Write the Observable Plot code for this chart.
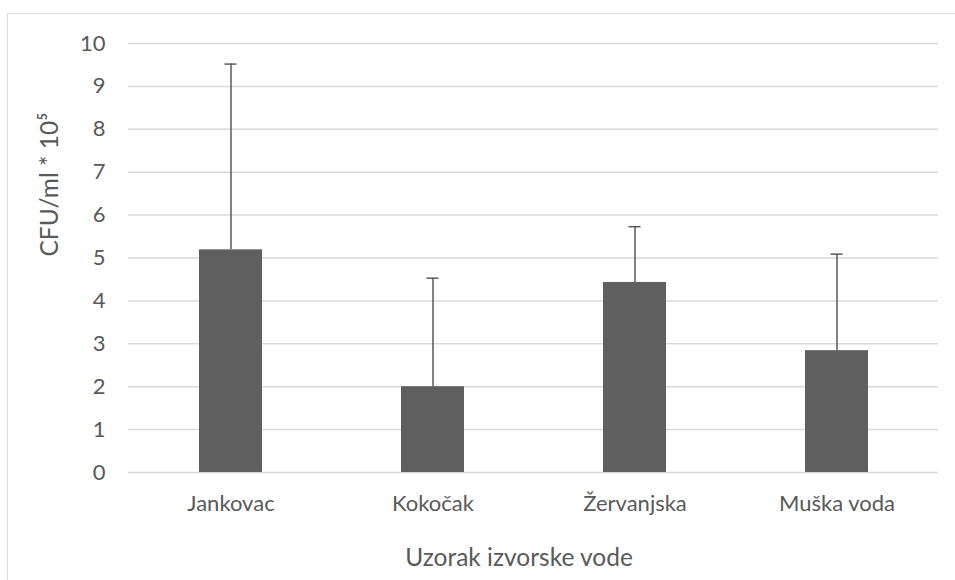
<!DOCTYPE html>
<html>
<head>
<meta charset="utf-8">
<script src="https://cdn.jsdelivr.net/npm/d3@7"></script>
<script src="https://cdn.jsdelivr.net/npm/@observablehq/plot@0.6"></script>
<style>
  html, body { margin: 0; padding: 0; background: #fff; }
  #wrap { position: relative; width: 955px; height: 580px; overflow: hidden; }
  #frame { position: absolute; left: 7px; top: 13px; width: 2000px; height: 2000px;
           border-left: 1.5px solid #d9d9d9; border-top: 1.5px solid #d9d9d9; box-sizing: border-box; }
  #chart { position: absolute; left: 0; top: 0; }
</style>
</head>
<body>
<div id="wrap"><div id="frame"></div><div id="chart"></div></div>
<script>
const categories = ["Jankovac", "Kokočak", "Žervanjska", "Muška voda"];
const values = [5.19, 2.0, 4.43, 2.84];
const errorsUp = [4.33, 2.53, 1.30, 2.25];
const yTicks = [0, 1, 2, 3, 4, 5, 6, 7, 8, 9, 10];
const yTitle = "CFU/ml * 10⁵";
const xTitle = "Uzorak izvorske vode";

const data = categories.map((c, i) => ({cat: c, v: values[i], top: values[i] + errorsUp[i]}));
const font = "Lato, 'Open Sans', sans-serif";
const ink = "#595959";

const chart = Plot.plot({
  width: 955,
  height: 580,
  marginLeft: 128,
  marginRight: 17,
  marginTop: 43,
  marginBottom: 108,
  style: {fontFamily: font, fontSize: "22px", color: ink, background: "transparent"},
  x: {domain: categories, paddingInner: 0.69, paddingOuter: 0.345, align: 0.5},
  y: {domain: [0, 10]},
  marks: [
    Plot.gridY(yTicks, {stroke: "#d9d9d9", strokeOpacity: 1, strokeWidth: 1.5}),
    Plot.barY(data, {x: "cat", y: "v", fill: "#5f5f5f"}),
    Plot.ruleX(data, {x: "cat", y1: "v", y2: "top", stroke: ink, strokeWidth: 1.5}),
    Plot.tickY(data, {x: "cat", y: "top", stroke: ink, strokeWidth: 1.5, insetLeft: 25.5, insetRight: 25.5}),
    Plot.axisY(yTicks, {tickSize: 0, tickPadding: 23, fontSize: 22, fill: ink, label: null}),
    Plot.axisX({tickSize: 0, tickPadding: 23, fontSize: 22, fill: ink, label: null}),
    Plot.text([yTitle], {frameAnchor: "left", dx: -78, dy: -1.5, rotate: -90, fontSize: 24.5, fill: ink}),
    Plot.text([xTitle], {frameAnchor: "bottom", lineAnchor: "middle", dx: -14.5, dy: 86, fontSize: 24.5, fill: ink})
  ]
});
document.getElementById("chart").appendChild(chart);
</script>
</body>
</html>
